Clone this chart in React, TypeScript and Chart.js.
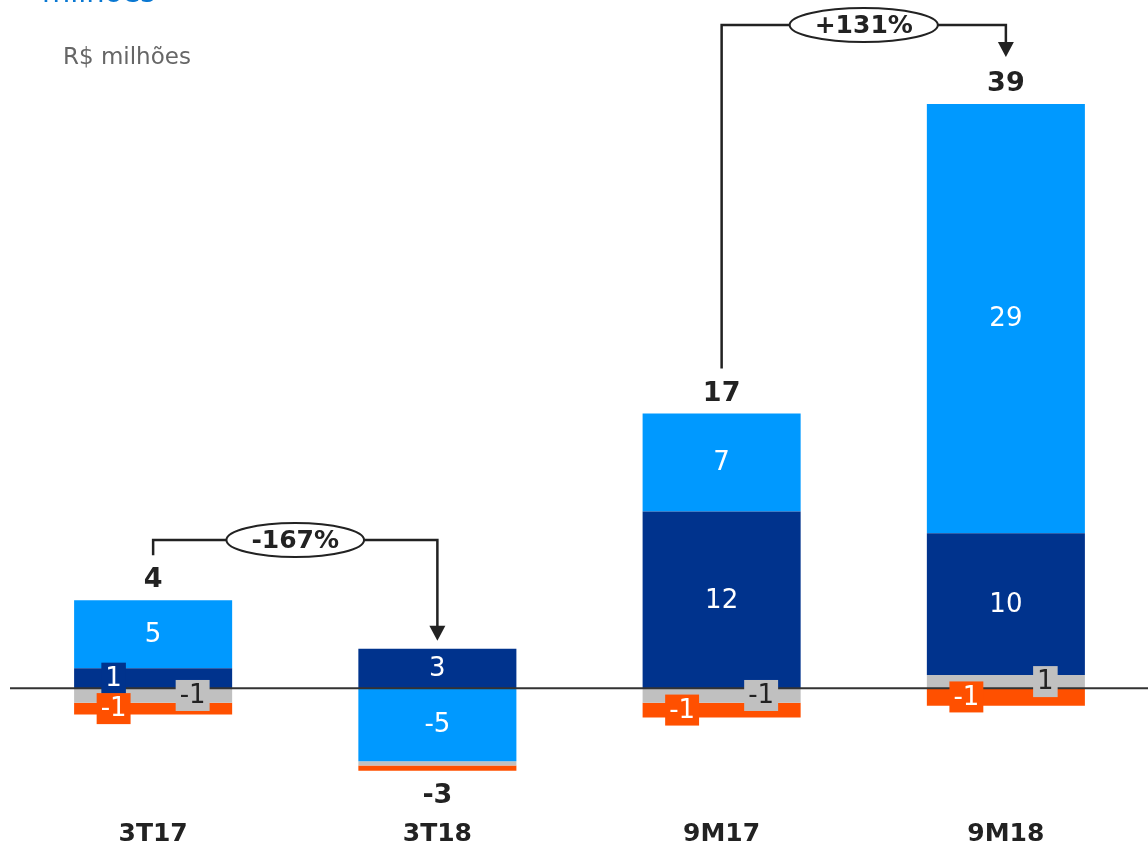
import React, { useEffect, useRef } from "react";
import { Chart, registerables } from "chart.js";

Chart.register(...registerables);

const categories = ["3T17", "3T18", "9M17", "9M18"];
const lightBlueValues = [4.65, -5.0, 6.7, 29.4];
const darkBlueValues = [1.37, 2.7, 12.1, 9.7];
const grayValues = [-1.0, -0.3, -1.0, 0.9];
const orangeValues = [-0.8, -0.35, -1.0, -1.2];
const totals = [4, -3, 17, 39];
const variationPairs: [number, number][] = [
  [0, 1],
  [2, 3],
];
const variationLabels = ["-167%", "+131%"];

const LIGHT = "#0099FF";
const DARK = "#00338D";
const GRAY = "#C0C0C0";
const ORANGE = "#FF5000";
const FONT = "'DejaVu Sans', Verdana, sans-serif";

export default function App() {
  const ref = useRef<HTMLCanvasElement | null>(null);

  useEffect(() => {
    if (!ref.current) return;

    const lightNeg = lightBlueValues.map((v) => (v < 0 ? v : null));
    const lightPos = lightBlueValues.map((v) => (v >= 0 ? v : null));

    const datasets = [
      { key: "light", data: lightNeg, backgroundColor: LIGHT },
      { key: "gray", data: grayValues, backgroundColor: GRAY },
      { key: "dark", data: darkBlueValues, backgroundColor: DARK },
      { key: "light", data: lightPos, backgroundColor: LIGHT },
      { key: "orange", data: orangeValues, backgroundColor: ORANGE },
    ];

    const overlay = {
      id: "overlay",
      afterDatasetsDraw(chart: any) {
        const ctx = chart.ctx;
        const y = chart.scales.y;
        const y0 = y.getPixelForValue(0);
        ctx.save();
        ctx.strokeStyle = "#333";
        ctx.lineWidth = 2;
        ctx.beginPath();
        ctx.moveTo(10, y0);
        ctx.lineTo(chart.width, y0);
        ctx.stroke();
        ctx.restore();
      },
      afterDraw(chart: any) {
        const ctx = chart.ctx;
        const ys = chart.scales.y;
        const xs = chart.scales.x;
        ctx.save();

        // segment labels
        chart.data.datasets.forEach((ds: any, di: number) => {
          const meta = chart.getDatasetMeta(di);
          ds.data.forEach((v: number | null, i: number) => {
            if (v === null || v === undefined) return;
            const r = Math.round(v);
            if (r === 0) return;
            const el: any = meta.data[i];
            const cy = (el.y + el.base) / 2;
            const txt = String(r);
            ctx.font = `26px ${FONT}`;
            ctx.textAlign = "center";
            ctx.textBaseline = "middle";
            if (Math.abs(v) < 2) {
              const cx = ds.key === "gray" ? el.x + el.width * 0.25 : el.x - el.width * 0.25;
              const w = ctx.measureText(txt).width + 8;
              const h = 31;
              ctx.fillStyle = ds.backgroundColor;
              ctx.fillRect(cx - w / 2, cy - h / 2, w, h);
              ctx.fillStyle = ds.key === "gray" ? "#222" : "#fff";
              ctx.fillText(txt, cx, cy + 1);
            } else {
              ctx.fillStyle = "#fff";
              ctx.fillText(txt, el.x, cy + 1);
            }
          });
        });

        // totals
        const totalY: number[] = [];
        const topY: number[] = [];
        categories.forEach((_, i) => {
          let pos = 0;
          let neg = 0;
          chart.data.datasets.forEach((ds: any) => {
            const v = ds.data[i];
            if (v === null || v === undefined) return;
            if (v >= 0) pos += v;
            else neg += v;
          });
          const x = xs.getPixelForValue(i);
          const pTop = ys.getPixelForValue(pos);
          const nBot = ys.getPixelForValue(neg);
          topY[i] = pTop;
          const ty = totals[i] >= 0 ? pTop - 20 : nBot + 25;
          totalY[i] = ty;
          ctx.font = `bold 27px ${FONT}`;
          ctx.fillStyle = "#222";
          ctx.textAlign = "center";
          ctx.textBaseline = "middle";
          ctx.fillText(String(totals[i]), x, ty);

          // category label
          ctx.font = `bold 25px ${FONT}`;
          ctx.fillText(categories[i], x, 834);
        });

        // variation connectors
        const levels = [540, 25];
        variationPairs.forEach(([a, b], k) => {
          const xa = xs.getPixelForValue(a);
          const xb = xs.getPixelForValue(b);
          const startY = totalY[a] - 25;
          const level = levels[k];
          const tipY = totals[b] >= 0 && b === 3 ? totalY[b] - 27 : topY[b] - 8;
          ctx.strokeStyle = "#222";
          ctx.fillStyle = "#222";
          ctx.lineWidth = 2.5;
          ctx.beginPath();
          ctx.moveTo(xa, startY);
          ctx.lineTo(xa, level);
          ctx.lineTo(xb, level);
          ctx.lineTo(xb, tipY - 14);
          ctx.stroke();
          ctx.beginPath();
          ctx.moveTo(xb - 8, tipY - 15);
          ctx.lineTo(xb + 8, tipY - 15);
          ctx.lineTo(xb, tipY);
          ctx.closePath();
          ctx.fill();

          const mx = (xa + xb) / 2;
          ctx.font = `bold 25px ${FONT}`;
          const tw = ctx.measureText(variationLabels[k]).width;
          const rx = (tw + 50) / 2;
          const ry = 17;
          ctx.beginPath();
          ctx.ellipse(mx, level, rx, ry, 0, 0, Math.PI * 2);
          ctx.fillStyle = "#fff";
          ctx.fill();
          ctx.lineWidth = 2;
          ctx.stroke();
          ctx.fillStyle = "#222";
          ctx.textAlign = "center";
          ctx.textBaseline = "middle";
          ctx.fillText(variationLabels[k], mx, level + 1);
        });

        // titles
        ctx.textAlign = "left";
        ctx.textBaseline = "alphabetic";
        ctx.font = `29px ${FONT}`;
        ctx.fillStyle = "#0A78D2";
        ctx.fillText("milhões", 42, 2);
        ctx.font = `23px ${FONT}`;
        ctx.fillStyle = "#666";
        ctx.textBaseline = "middle";
        ctx.fillText("R$ milhões", 63, 58);

        ctx.restore();
      },
    };

    const chart = new Chart(ref.current, {
      type: "bar",
      data: {
        labels: categories,
        datasets: datasets.map((d) => ({
          ...d,
          borderWidth: 0,
          barPercentage: 0.556,
          categoryPercentage: 1,
        })) as any,
      },
      options: {
        animation: false,
        responsive: false,
        maintainAspectRatio: false,
        layout: { padding: { left: 11, right: 0, top: 31, bottom: 43 } },
        plugins: {
          legend: { display: false },
          tooltip: { enabled: false },
        },
        scales: {
          x: { stacked: true, display: false },
          y: { stacked: true, display: false, min: -8, max: 45 },
        },
      },
      plugins: [overlay],
    });

    return () => chart.destroy();
  }, []);

  return (
    <div style={{ position: "absolute", left: 0, top: 0, width: 1148, height: 848, background: "#fff" }}>
      <canvas ref={ref} width={1148} height={848} style={{ width: 1148, height: 848, display: "block" }} />
    </div>
  );
}
